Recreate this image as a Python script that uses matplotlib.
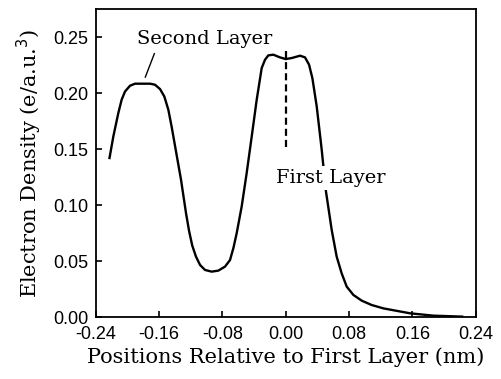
import matplotlib.pyplot as plt

# electron density profile
pos = [-0.2228, -0.2177, -0.2114, -0.2072, -0.2029, -0.1966, -0.1903,
       -0.1714, -0.1651, -0.1587, -0.1533, -0.1482, -0.1440, -0.1385, -0.1322,
       -0.1259, -0.1220, -0.1180, -0.1133, -0.1082, -0.1019, -0.0935, -0.0851,
       -0.0766, -0.0703, -0.0660, -0.0619, -0.0556, -0.0493, -0.0429, -0.0366,
       -0.0303, -0.0261, -0.0219, -0.0156, -0.0072, 0.0000, 0.0076, 0.0181,
       0.0244, 0.0295, 0.0337, 0.0392, 0.0455, 0.0509, 0.0581, 0.0644, 0.0707,
       0.0771, 0.0855, 0.0960, 0.1086, 0.1234, 0.1571, 0.1865, 0.2244]
dens = [0.1412, 0.1615, 0.1824, 0.1943, 0.2017, 0.2068, 0.2086,
        0.2086, 0.2077, 0.2038, 0.1972, 0.1853, 0.1700, 0.1480, 0.1228,
        0.0930, 0.0770, 0.0640, 0.0542, 0.0468, 0.0423, 0.0408, 0.0417,
        0.0453, 0.0512, 0.0620, 0.0751, 0.0989, 0.1287, 0.1615, 0.1943,
        0.2226, 0.2300, 0.2339, 0.2345, 0.2321, 0.2306, 0.2315, 0.2336,
        0.2321, 0.2256, 0.2136, 0.1883, 0.1496, 0.1123, 0.0781, 0.0542, 0.0393,
        0.0274, 0.0200, 0.0149, 0.0110, 0.0080, 0.0036, 0.0015, 0.0006]

xticks = [-0.24, -0.16, -0.08, 0.00, 0.08, 0.16, 0.24]
yticks = [0.00, 0.05, 0.10, 0.15, 0.20, 0.25]

serif = "DejaVu Serif"
sans = "Liberation Sans"

fig = plt.figure(figsize=(5.02, 3.79), dpi=100)
ax = fig.add_axes([0.1906, 0.1627, 0.757, 0.8127])

ax.plot(pos, dens, color="black", lw=1.7, solid_joinstyle="round", solid_capstyle="butt")
ax.plot([0, 0], [0.152, 0.239], color="black", lw=1.6, ls=(0, (3.2, 1.8)))

ax.text(-0.1025, 0.244, "Second Layer", family=serif, fontsize=14,
        ha="center", va="baseline")
ax.plot([-0.1659, -0.1773], [0.2354, 0.2145], color="black", lw=1)
ax.text(0.0570, 0.1198, "First Layer", family=serif, fontsize=14,
        ha="center", va="baseline",
        bbox=dict(facecolor="white", edgecolor="none", pad=2))

ax.set_xlim(-0.24, 0.24)
ax.set_ylim(0, 0.275)
ax.set_xticks(xticks)
ax.set_yticks(yticks)
ax.set_xticklabels(["%.2f" % v for v in xticks], family=sans, fontsize=13)
ax.set_yticklabels(["%.2f" % v for v in yticks], family=sans, fontsize=13)
ax.tick_params(direction="in", length=4, width=1.2, top=False, right=False)
ax.tick_params(axis="x", pad=6)
ax.tick_params(axis="y", pad=5)
for s in ax.spines.values():
    s.set_linewidth(1.3)

ax.set_xlabel("Positions Relative to First Layer (nm)", family=serif, fontsize=15, labelpad=3)
ax.set_ylabel("Electron Density (e/a.u.$^3$)", family=serif, fontsize=15, labelpad=7)

fig.savefig("out.png", dpi=100)
